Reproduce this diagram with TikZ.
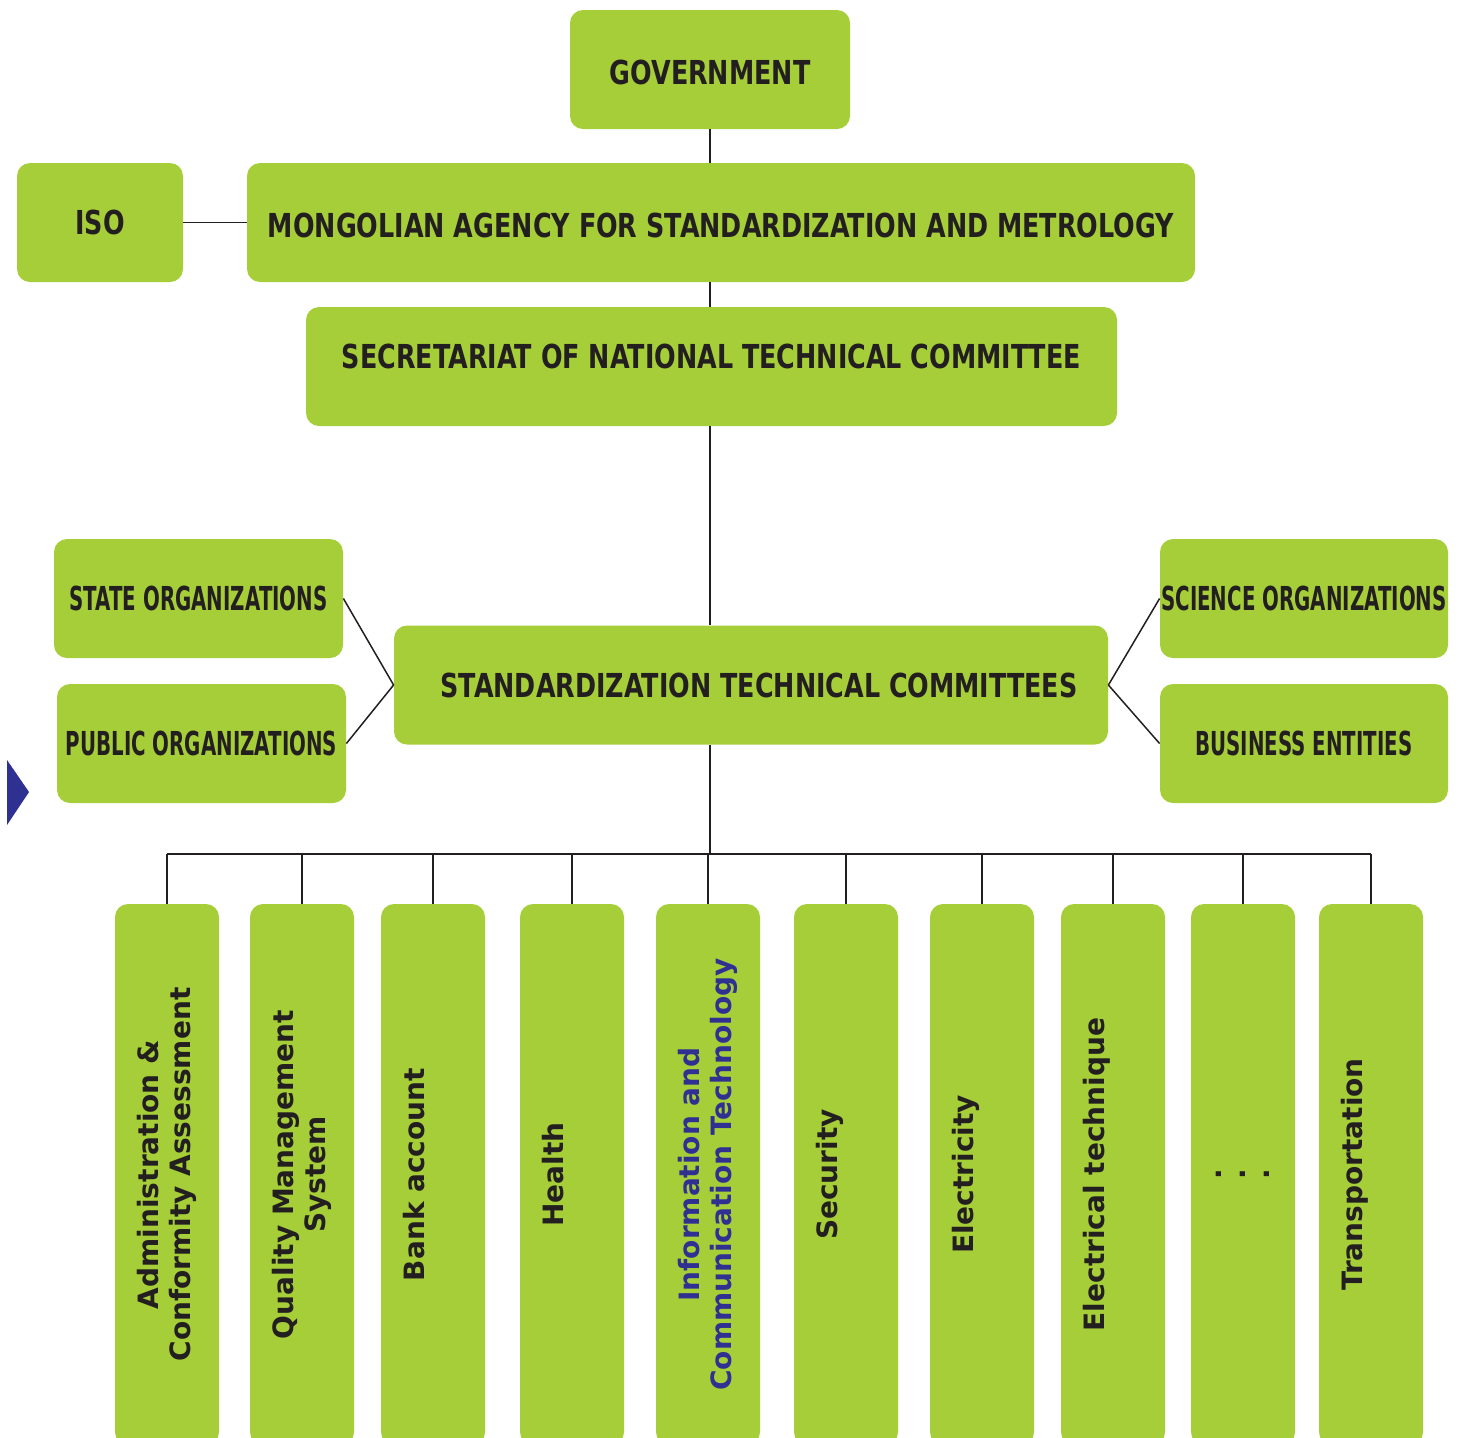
\documentclass[tikz,border=0pt]{standalone}
\usepackage{fontspec}
\setmainfont{DejaVu Sans}
\newfontfamily\headfont{DejaVu Sans}[FakeStretch=0.77]
\newfontfamily\sidefont{DejaVu Sans}[FakeStretch=0.6]
\definecolor{boxgreen}{HTML}{A6CE39}
\definecolor{ink}{HTML}{231F20}
\definecolor{navy}{HTML}{2E3192}
\tikzset{
  box/.style={fill=boxgreen, rounded corners=6.5pt, inner sep=0pt, text=ink,
    minimum height=59.5pt, font=\headfont\bfseries\fontsize{16.5}{18}\selectfont},
  side/.style={box, minimum width=144.5pt, font=\sidefont\bfseries\fontsize{16.5}{18}\selectfont},
  col/.style={fill=boxgreen, rounded corners=6.5pt, inner sep=0pt, rotate=90, align=center,
    text=ink, minimum width=270.5pt, minimum height=52pt,
    font=\bfseries\fontsize{14}{16}\selectfont},
  oneline/.style={col, text depth=19.5pt},
  link/.style={draw=ink, line width=0.75pt},
}
\begin{document}
\begin{tikzpicture}[x=0.5pt,y=-0.5pt]
  \useasboundingbox (0,0) rectangle (1468,1437);
  \clip (0,0) rectangle (1468,1437);

  \node [box, minimum width=140pt, text height=15pt] (gov) at (710,69.5) {GOVERNMENT};
  \node [box, minimum width=83pt] (iso) at (100,222.5) {ISO};
  \node [box, minimum width=474pt, text height=15pt] (masm) at (721,222.5) {MONGOLIAN AGENCY FOR STANDARDIZATION AND METROLOGY};
  \node [box, minimum width=405.5pt, text depth=10pt] (nsec) at (711.5,366.5) {SECRETARIAT OF NATIONAL TECHNICAL COMMITTEE};
  \node [box, minimum width=357pt] (stc) at (751,685) {\hspace*{8pt}STANDARDIZATION TECHNICAL COMMITTEES};

  \node [side] (state) at (198.5,598.5) {STATE ORGANIZATIONS};
  \node [side] (public) at (201.5,743.5) {PUBLIC ORGANIZATIONS};
  \node [side, minimum width=144pt] (science) at (1304,598.5) {SCIENCE ORGANIZATIONS};
  \node [side, minimum width=144pt] (business) at (1304,743.5) {BUSINESS ENTITIES};

  % committees along the bottom
  \node [col] (adm) at (167,1174.5) {Administration \&\\Conformity Assessment};
  \node [col] (qms) at (302,1174.5) {Quality Management\\System};
  \node [oneline] (bank) at (433,1174.5) {Bank account};
  \node [oneline] (health) at (572,1174.5) {Health};
  \node [col, text=navy] (ict) at (708,1174.5) {Information and\\Communication Technology};
  \node [oneline] (secu) at (846,1174.5) {Security};
  \node [oneline] (elec) at (982,1174.5) {Electricity};
  \node [oneline] (etech) at (1113,1174.5) {Electrical technique};
  \node [col] (more) at (1243,1174.5) {.\\[-4pt].\\[-4pt].};
  \node [oneline] (trans) at (1371,1174.5) {Transportation};

  \coordinate (bus) at (710,854);

  \draw [link] (gov.south) -- (gov.south |- masm.north);
  \draw [link] (masm.south -| gov) -- (nsec.north -| gov);
  \draw [link] (nsec.south -| gov) -- (stc.north -| gov);
  \draw [link] (stc.south -| bus) -- (bus);
  \draw [link] (iso) -- (masm);

  \draw [link] (state.east) -- (stc.west);
  \draw [link] (public.east) -- (stc.west);
  \draw [link] (science.west) -- (stc.east);
  \draw [link] (business.west) -- (stc.east);

  \draw [link] (adm.east |- bus) -- (trans.east |- bus);
  \foreach \c in {adm,qms,bank,health,ict,secu,elec,etech,more,trans}
    \draw [link] (\c.east) -- (\c.east |- bus);

  \fill [navy] (7,760) -- (29,792) -- (7,825) -- cycle;
\end{tikzpicture}
\end{document}
